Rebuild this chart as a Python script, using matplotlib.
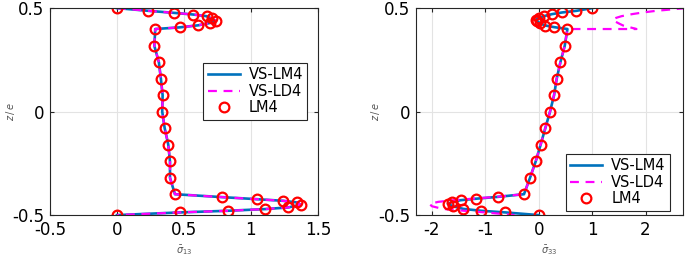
import matplotlib
matplotlib.use("Agg")
import matplotlib.pyplot as plt

# ---- panneau gauche : sigma13
z_g = [0.5, 0.487, 0.477, 0.469, 0.461, 0.450, 0.439, 0.428, 0.417, 0.407, 0.399,
       0.318, 0.238, 0.159, 0.079, 0.0, -0.079, -0.159, -0.241, -0.320,
       -0.399, -0.413, -0.423, -0.431, -0.439, -0.450, -0.463, -0.471, -0.479, -0.487, -0.5]
s13_lm4 = [0.0, 0.234, 0.428, 0.570, 0.669, 0.706, 0.739, 0.694, 0.607, 0.468, 0.286,
           0.279, 0.313, 0.328, 0.341, 0.338, 0.356, 0.383, 0.396, 0.396,
           0.433, 0.781, 1.042, 1.241, 1.348, 1.371, 1.279, 1.104, 0.831, 0.470, 0.0]
s13_vs_lm4 = s13_lm4
s13_vs_ld4 = s13_lm4

# ---- panneau droit : sigma33
z_d = [0.5, 0.487, 0.479, 0.471, 0.461, 0.453, 0.445, 0.437, 0.426, 0.416, 0.408, 0.399,
       0.318, 0.238, 0.159, 0.079, 0.0, -0.079, -0.159, -0.241, -0.320,
       -0.399, -0.412, -0.421, -0.428, -0.436, -0.446, -0.457, -0.470, -0.479, -0.487, -0.5]
s33_lm4 = [1.0, 0.706, 0.438, 0.25, 0.094, 0.0, -0.044, -0.025, 0.025, 0.125, 0.294, 0.538,
           0.4875, 0.406, 0.3375, 0.2875, 0.2125, 0.125, 0.0375, -0.056, -0.1625,
           -0.275, -0.769, -1.181, -1.4625, -1.619, -1.70, -1.606, -1.4125, -1.081, -0.625, 0.0]
s33_vs_lm4 = s33_lm4
# VS-LD4 : saut a l'interface superieure (z=0.4 deux fois)
z_d_ld4 = [0.5, 0.487, 0.479, 0.471, 0.461, 0.453, 0.445, 0.437, 0.426, 0.416, 0.408, 0.399, 0.399,
           0.318, 0.238, 0.159, 0.079, 0.0, -0.079, -0.159, -0.241, -0.320,
           -0.399, -0.412, -0.421, -0.428, -0.436, -0.446, -0.457, -0.470, -0.479, -0.487, -0.5]
s33_vs_ld4 = [2.75, 2.2, 1.95, 1.75, 1.55, 1.45, 1.39, 1.42, 1.5, 1.58, 1.7, 1.83, 0.538,
              0.4875, 0.406, 0.3375, 0.2875, 0.2125, 0.125, 0.0375, -0.056, -0.1625,
              -0.275, -0.8, -1.25, -1.6, -1.88, -2.04, -2.0, -1.8, -1.4, -1.0, -0.45]

bleu = "#0072BD"
mag = "#FF00FF"

fig = plt.figure(figsize=(6.85, 2.62), dpi=100)
ax1 = fig.add_axes([0.073, 0.179, 0.391, 0.790])
ax2 = fig.add_axes([0.607, 0.179, 0.390, 0.790])


def panneau(ax, x_lm, z_lm, x_vs, z_vs, x_ld, z_ld, xlim, xticks, xlab, leg_pos):
    ax.plot(x_vs, z_vs, "-", color=bleu, lw=1.9, label="VS-LM4")
    ax.plot(x_ld, z_ld, "--", color=mag, lw=1.6, dashes=(4, 3), label="VS-LD4")
    ax.plot(x_lm, z_lm, "o", mfc="none", mec="red", ms=7, mew=1.6, label="LM4")
    ax.set_xlim(*xlim)
    ax.set_ylim(-0.5, 0.5)
    ax.set_xticks(xticks)
    ax.set_yticks([-0.5, 0, 0.5])
    ax.set_xticklabels([f"{t:g}" for t in xticks])
    ax.set_yticklabels(["-0.5", "0", "0.5"])
    ax.grid(True, color="#e3e3e3", lw=0.8)
    ax.tick_params(direction="in", top=True, right=True, labelsize=12, length=3,
                   color="#262626", pad=4)
    for sp in ax.spines.values():
        sp.set_color("#262626")
        sp.set_linewidth(0.8)
    ax.set_xlabel(xlab, fontsize=7, color="#555555")
    ax.xaxis.set_label_coords(0.5, -0.135)
    ax.set_ylabel("$z\\,/\\,e$", fontsize=7, color="#555555")
    ax.yaxis.set_label_coords(-0.125, 0.5)
    leg = ax.legend(loc="upper left", bbox_to_anchor=leg_pos, fontsize=10.5, fancybox=False,
                    edgecolor="#262626", framealpha=1, handlelength=2.2, borderpad=0.3,
                    labelspacing=0.1, handletextpad=0.6)
    leg.get_frame().set_linewidth(0.8)


panneau(ax1, s13_lm4, z_g, s13_vs_lm4, z_g, s13_vs_ld4, z_g,
        (-0.5, 1.5), [-0.5, 0, 0.5, 1, 1.5], "$\\bar{\\sigma}_{13}$", (0.545, 0.77))
panneau(ax2, s33_lm4, z_d, s33_vs_lm4, z_d, s33_vs_ld4, z_d_ld4,
        (-2.3, 2.7), [-2, -1, 0, 1, 2], "$\\bar{\\sigma}_{33}$", (0.535, 0.33))

fig.savefig("out.png", dpi=100)
